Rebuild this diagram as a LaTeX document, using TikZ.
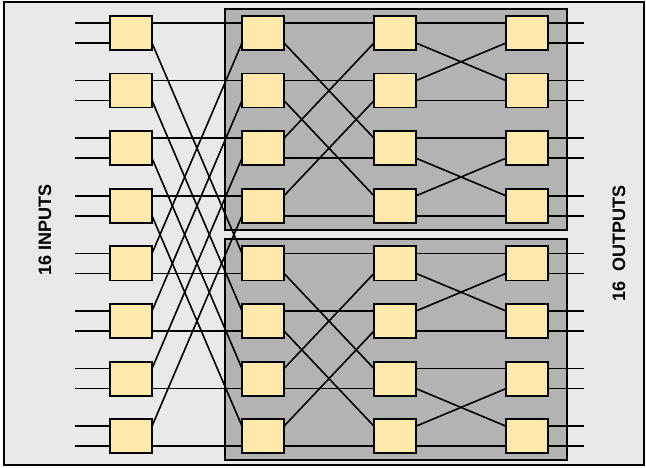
\documentclass[tikz,border=0pt]{standalone}
\usepackage{fontspec}
\setmainfont{Liberation Sans}
\usetikzlibrary{calc}
\definecolor{bggray}{HTML}{E9E9E9}
\definecolor{blockgray}{HTML}{B3B3B3}
\definecolor{swfill}{HTML}{FEE8AA}
\tikzset{
  sw/.style={draw=black, line width=1.8pt, fill=swfill, minimum width=42pt,
    minimum height=34pt, inner sep=0pt, outer sep=0pt, anchor=north west},
  wire/.style={line width=1.6pt},
  block/.style={draw=black, line width=1.6pt, fill=blockgray},
  sidelabel/.style={font=\bfseries\fontsize{18}{20}\selectfont, rotate=90}
}
\begin{document}
\begin{tikzpicture}[x=1pt, y=-1pt]
  \useasboundingbox (0,0) rectangle (646,468);
  \draw[line width=2pt, fill=bggray] (4,2) rectangle (644,465);
  % two sub-networks
  \draw[block] (225,9) rectangle (567,230);
  \draw[block] (225,239) rectangle (567,460);
  % switches and their ports
  \foreach \c/\x in {1/110,2/242,3/374,4/506}{
    \foreach \r in {0,...,7}{
      \node[sw] (sw-\c-\r) at ({\x},{16+57.6*\r}) {};
      \coordinate (sw-\c-\r-i1) at ($(sw-\c-\r.north west)+(0,7)$);
      \coordinate (sw-\c-\r-i2) at ($(sw-\c-\r.south west)+(0,-7)$);
      \coordinate (sw-\c-\r-o1) at ($(sw-\c-\r.north east)+(0,7)$);
      \coordinate (sw-\c-\r-o2) at ($(sw-\c-\r.south east)+(0,-7)$);
    }
  }
  % inputs and outputs
  \foreach \r in {0,...,7}{
    \draw[wire] (sw-1-\r-i1) -- ++(-35,0);
    \draw[wire] (sw-1-\r-i2) -- ++(-35,0);
    \draw[wire] (sw-4-\r-o1) -- ++(36,0);
    \draw[wire] (sw-4-\r-o2) -- ++(36,0);
  }
  % first stage to the two halves
  \foreach \r in {0,...,3}{
    \pgfmathtruncatemacro\lo{\r+4}
    \draw[wire] (sw-1-\r-o1) -- (sw-2-\r-i1);
    \draw[wire] (sw-1-\r-o2) -- (sw-2-\lo-i1);
    \draw[wire] (sw-1-\lo-o1) -- (sw-2-\r-i2);
    \draw[wire] (sw-1-\lo-o2) -- (sw-2-\lo-i2);
  }
  % inside each half
  \foreach \b in {0,4}{
    \foreach \j in {0,1}{
      \pgfmathtruncatemacro\a{\b+\j}
      \pgfmathtruncatemacro\d{\b+\j+2}
      \draw[wire] (sw-2-\a-o1) -- (sw-3-\a-i1);
      \draw[wire] (sw-2-\a-o2) -- (sw-3-\d-i1);
      \draw[wire] (sw-2-\d-o1) -- (sw-3-\a-i2);
      \draw[wire] (sw-2-\d-o2) -- (sw-3-\d-i2);
    }
  }
  \foreach \p in {0,2,4,6}{
    \pgfmathtruncatemacro\q{\p+1}
    \draw[wire] (sw-3-\p-o1) -- (sw-4-\p-i1);
    \draw[wire] (sw-3-\p-o2) -- (sw-4-\q-i1);
    \draw[wire] (sw-3-\q-o1) -- (sw-4-\p-i2);
    \draw[wire] (sw-3-\q-o2) -- (sw-4-\q-i2);
  }
  \node[sidelabel] (inputs) at (45,230) {16 INPUTS};
  \node[sidelabel] (outputs) at (619,243) {16\ \ OUTPUTS};
\end{tikzpicture}
\end{document}
